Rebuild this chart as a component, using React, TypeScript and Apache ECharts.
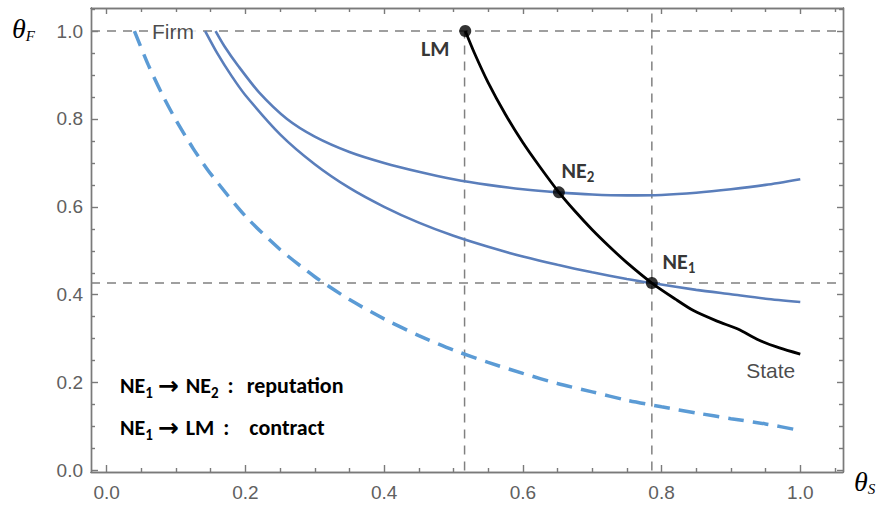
import React, { useEffect, useRef } from "react";
import * as echarts from "echarts";

const X_MIN = -0.0226;
const X_MAX = 1.0616;
const Y_MIN = -0.0034;
const Y_MAX = 1.0525;

const xMajorTicks = [0, 0.2, 0.4, 0.6, 0.8, 1.0];
const xMinorTicks = [0.05, 0.1, 0.15, 0.25, 0.3, 0.35, 0.45, 0.5, 0.55, 0.65, 0.7, 0.75, 0.85, 0.9, 0.95, 1.05];
const yMajorTicks = [0, 0.2, 0.4, 0.6, 0.8, 1.0];
const yMinorTicks = [0.05, 0.1, 0.15, 0.25, 0.3, 0.35, 0.45, 0.5, 0.55, 0.65, 0.7, 0.75, 0.85, 0.9, 0.95, 1.05];

// dashed light-blue curve
const baseX = [0.04, 0.06, 0.08, 0.1, 0.125, 0.15, 0.2, 0.25, 0.3, 0.35, 0.4, 0.45, 0.5, 0.55, 0.6, 0.65, 0.7, 0.75, 0.8, 0.85, 0.9, 0.95, 1.0];
const baseY = [1.0, 0.923, 0.856, 0.797, 0.732, 0.675, 0.579, 0.503, 0.441, 0.389, 0.345, 0.307, 0.274, 0.246, 0.221, 0.198, 0.179, 0.16, 0.145, 0.131, 0.118, 0.106, 0.091];

// Firm curve through NE2
const upperX = [0.157, 0.17, 0.19, 0.22, 0.26, 0.3, 0.35, 0.4, 0.45, 0.5, 0.55, 0.6, 0.65, 0.7, 0.75, 0.8, 0.85, 0.9, 0.95, 1.0];
const upperY = [1.0, 0.965, 0.92, 0.86, 0.8, 0.76, 0.725, 0.7, 0.68, 0.663, 0.65, 0.64, 0.633, 0.628, 0.626, 0.627, 0.632, 0.64, 0.65, 0.663];

// Firm curve through NE1
const lowerX = [0.142, 0.16, 0.18, 0.2, 0.25, 0.3, 0.35, 0.4, 0.45, 0.5, 0.55, 0.6, 0.65, 0.7, 0.75, 0.786, 0.85, 0.9, 0.95, 1.0];
const lowerY = [1.0, 0.948, 0.898, 0.854, 0.765, 0.697, 0.643, 0.6, 0.564, 0.534, 0.509, 0.487, 0.468, 0.451, 0.436, 0.4266, 0.411, 0.401, 0.391, 0.3836];

// State curve
const stateX = [0.517, 0.53, 0.55, 0.575, 0.6, 0.625, 0.652, 0.675, 0.7, 0.725, 0.75, 0.786, 0.82, 0.846, 0.88, 0.91, 0.94, 0.97, 1.0];
const stateY = [1.0, 0.9506, 0.8826, 0.8101, 0.7463, 0.69, 0.633, 0.5905, 0.548, 0.5093, 0.473, 0.4266, 0.39, 0.364, 0.34, 0.322, 0.297, 0.279, 0.265];

// equilibrium points
const eqNames = ["LM", "NE2", "NE1"];
const eqX = [0.517, 0.652, 0.786];
const eqY = [1.0, 0.633, 0.4266];

// reference dashed lines
const refVX = [0.516, 0.786];
const refVTop = [1.0, Y_MAX];
const refHY = [1.0, 0.4266];

// curve labels
const curveLabels = ["Firm", "State"];
const curveLabelX = [0.0956, 0.9574];
const curveLabelY = [1.0, 0.2285];

const zip = (xs: number[], ys: number[]) => xs.map((x, i) => [x, ys[i]]);

const frameStyle = { color: "#7a7a7a", width: 1.4 };
const tickFont = "Liberation Sans, Arial, sans-serif";
const noteFont = "Carlito, Lato, sans-serif";

function makeX(position: string, ticks: number[], len: number, labels: boolean) {
  return {
    type: "value",
    min: X_MIN,
    max: X_MAX,
    position,
    axisLine: { show: true, onZero: false, lineStyle: frameStyle },
    axisTick: { show: true, inside: true, length: len, customValues: ticks, lineStyle: frameStyle },
    axisLabel: labels
      ? {
          show: true,
          customValues: xMajorTicks,
          formatter: (v: number) => v.toFixed(1),
          color: "#606060",
          fontSize: 19,
          fontFamily: tickFont,
          margin: 11,
        }
      : { show: false },
    splitLine: { show: false },
  };
}

function makeY(position: string, ticks: number[], len: number, labels: boolean) {
  return {
    type: "value",
    min: Y_MIN,
    max: Y_MAX,
    position,
    axisLine: { show: true, onZero: false, lineStyle: frameStyle },
    axisTick: { show: true, inside: true, length: len, customValues: ticks, lineStyle: frameStyle },
    axisLabel: labels
      ? {
          show: true,
          customValues: yMajorTicks,
          formatter: (v: number) => v.toFixed(1),
          color: "#606060",
          fontSize: 19,
          fontFamily: tickFont,
          margin: 8,
        }
      : { show: false },
    splitLine: { show: false },
  };
}

const refLine = (data: number[][]) => ({
  type: "line",
  data,
  symbol: "none",
  silent: true,
  z: 1,
  lineStyle: { color: "#808080", width: 1.5, type: [9, 7] },
});

const noteRich = {
  m: { fontFamily: noteFont, fontWeight: "bold", fontSize: 22, color: "#000", lineHeight: 26 },
  s: { fontFamily: noteFont, fontWeight: "bold", fontSize: 15, color: "#000", lineHeight: 12, padding: [14, 0, 0, 0] },
  a: { fontFamily: "DejaVu Sans, sans-serif", fontWeight: "bold", fontSize: 25, color: "#000", lineHeight: 26, padding: [0, 7, 0, 5] },
  c1: { fontFamily: noteFont, fontWeight: "bold", fontSize: 22, color: "#000", lineHeight: 26, padding: [0, 13, 0, 9] },
  c2: { fontFamily: noteFont, fontWeight: "bold", fontSize: 22, color: "#000", lineHeight: 26, padding: [0, 20, 0, 9] },
};

export default function App() {
  const ref = useRef<HTMLDivElement>(null);
  useEffect(() => {
    document.body.style.margin = "0";
    if (!ref.current) return;
    const chart = echarts.init(ref.current, undefined, { renderer: "svg" });
    const eqOffsets: Record<string, number[]> = { LM: [-30, 17], NE2: [19, -22], NE1: [27, -22] };
    const curve = (xs: number[], ys: number[], z: number, lineStyle: any) => ({
      type: "line",
      data: zip(xs, ys),
      symbol: "none",
      smooth: 0.25,
      z,
      lineStyle,
    });
    const thetaRich = {
      t: { fontFamily: "Liberation Serif, serif", fontStyle: "italic", fontSize: 28, color: "#111", lineHeight: 30 },
      s: { fontFamily: "Liberation Serif, serif", fontStyle: "italic", fontSize: 15, color: "#111", lineHeight: 15, padding: [14, 0, 0, 0] },
    };
    chart.setOption({
      animation: false,
      backgroundColor: "#fff",
      grid: { left: 91, right: 36, top: 8, bottom: 34, containLabel: false },
      xAxis: [
        makeX("bottom", xMajorTicks, 7, true),
        makeX("bottom", xMinorTicks, 4, false),
        makeX("top", xMajorTicks, 6, false),
        makeX("top", xMinorTicks, 4, false),
      ],
      yAxis: [
        makeY("left", yMajorTicks, 7, true),
        makeY("left", yMinorTicks, 4, false),
        makeY("right", yMajorTicks, 6, false),
        makeY("right", yMinorTicks, 4, false),
      ],
      series: [
        ...refVX.map((x, i) => refLine([[x, 0], [x, refVTop[i]]])),
        ...refHY.map((y) => refLine([[X_MIN, y], [X_MAX, y]])),
        curve(baseX, baseY, 2, { color: "#5b9bd5", width: 3.5, type: [16, 9] }),
        curve(lowerX, lowerY, 3, { color: "#5a7ebb", width: 2.6 }),
        curve(upperX, upperY, 3, { color: "#5a7ebb", width: 2.6 }),
        curve(stateX, stateY, 4, { color: "#000", width: 2.8 }),
        {
          type: "scatter",
          z: 5,
          symbolSize: 12,
          itemStyle: { color: "#000" },
          data: eqNames.map((n, i) => ({
            name: n,
            value: [eqX[i], eqY[i]],
            label: { offset: eqOffsets[n] },
          })),
          label: {
            show: true,
            position: "inside",
            formatter: (p: any) => (p.name === "LM" ? "{m|LM}" : `{m|NE}{s|${p.name.slice(2)}}`),
            rich: noteRich,
          },
        },
        {
          type: "scatter",
          z: 6,
          symbolSize: 0,
          data: curveLabels.map((n, i) => ({ name: n, value: [curveLabelX[i], curveLabelY[i]] })),
          label: {
            show: true,
            position: "inside",
            formatter: "{b}",
            fontFamily: tickFont,
            fontSize: 21,
            color: "#1a1a1a",
            backgroundColor: "#fff",
            padding: [0, 2],
          },
        },
      ],
      graphic: [
        {
          type: "text",
          left: 12,
          top: 14,
          style: { text: "{t|θ}{s|F}", rich: thetaRich },
        },
        {
          type: "text",
          left: 854,
          top: 467,
          style: { text: "{t|θ}{s|S}", rich: thetaRich },
        },
        {
          type: "text",
          left: 120,
          top: 371,
          style: {
            text: "{m|NE}{s|1}{a|→}{m|NE}{s|2}{c1|:}{m|reputation}",
            rich: noteRich,
          },
        },
        {
          type: "text",
          left: 120,
          top: 413,
          style: {
            text: "{m|NE}{s|1}{a|→}{m|LM}{c2|:}{m|contract}",
            rich: noteRich,
          },
        },
      ],
    });
    return () => chart.dispose();
  }, []);
  return <div ref={ref} style={{ width: 879, height: 506 }} />;
}
